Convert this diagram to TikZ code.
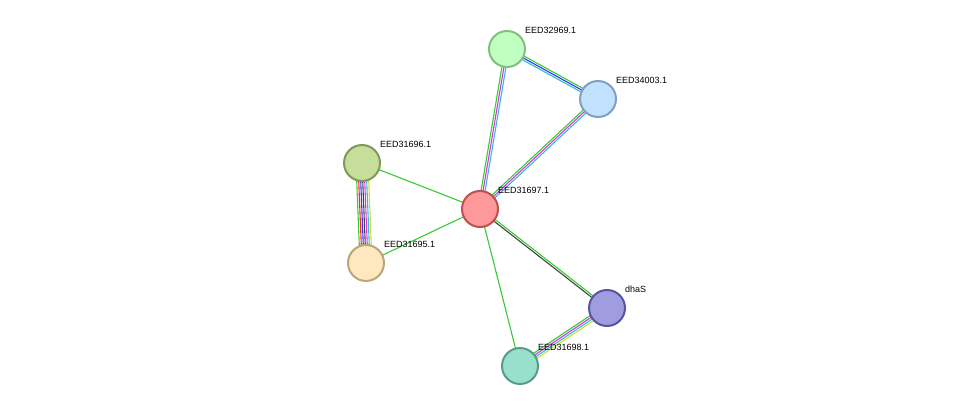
\documentclass[tikz,border=0pt]{standalone}
\usepackage{fontspec}
\setmainfont{Liberation Sans}
\usetikzlibrary{calc}
\definecolor{eg}{HTML}{33CC33}\definecolor{er}{HTML}{FF2222}\definecolor{eb}{HTML}{3333FF}
\definecolor{ek}{HTML}{444444}\definecolor{em}{HTML}{DD33DD}\definecolor{ec}{HTML}{33BBDD}
\definecolor{ey}{HTML}{CCDD33}
\newcommand{\medge}[3]{% a, b, list of offset/color
  \foreach \o/\c in {#3}{\draw[\c,line width=1.1pt] ($(#1)!\o pt!90:(#2)$) -- ($(#2)!\o pt!-90:(#1)$);}}
\begin{document}
\begin{tikzpicture}[x=1pt,y=-1pt,
  prot/.style={circle,minimum size=36pt,line width=2pt,inner sep=0},
  lab/.style={font=\fontsize{9}{10}\selectfont,anchor=south west,inner sep=1pt}]
\useasboundingbox (0,0) rectangle (975,412);
\coordinate (a) at (480,209);
\coordinate (b) at (507,49);
\coordinate (c) at (598,99);
\coordinate (d) at (362,163);
\coordinate (e) at (366,263);
\coordinate (f) at (607,308);
\coordinate (g) at (520,366);
\medge{d}{e}{-6/eg,-4/er,-2/eb,0/ek,2/em,4/ec,6/ey}
\medge{a}{b}{-2/ec,0/em,2/eg}
\medge{a}{c}{-2/ec,0/em,2/eg}
\medge{b}{c}{-2/ec,0/eb,2/eg}
\medge{a}{f}{-1/ek,1/eg}
\medge{f}{g}{-3/eg,-1/em,1/ec,3/ey}
\medge{a}{d}{0/eg}
\medge{a}{e}{0/eg}
\medge{a}{g}{0/eg}
\node[prot,fill={rgb,255:red,255;green,153;blue,153},draw={rgb,255:red,192;green,80;blue,80}] (na) at (a) {};
\node[prot,fill={rgb,255:red,193;green,255;blue,193},draw={rgb,255:red,128;green,192;blue,128}] (nb) at (b) {};
\node[prot,fill={rgb,255:red,193;green,225;blue,255},draw={rgb,255:red,127;green,160;blue,192}] (nc) at (c) {};
\node[prot,fill={rgb,255:red,197;green,222;blue,153},draw={rgb,255:red,128;green,152;blue,90}] (nd) at (d) {};
\node[prot,fill={rgb,255:red,255;green,232;blue,192},draw={rgb,255:red,184;green,168;blue,120}] (ne) at (e) {};
\node[prot,fill={rgb,255:red,160;green,156;blue,224},draw={rgb,255:red,90;green,85;blue,160}] (nf) at (f) {};
\node[prot,fill={rgb,255:red,153;green,224;blue,204},draw={rgb,255:red,90;green,154;blue,136}] (ng) at (g) {};
\node[lab] (la) at (497,195) {EED31697.1};
\node[lab] (lb) at (524,35) {EED32969.1};
\node[lab] (lc) at (615,85) {EED34003.1};
\node[lab] (ld) at (379,149) {EED31696.1};
\node[lab] (le) at (383,249) {EED31695.1};
\node[lab] (lf) at (624,294) {dhaS};
\node[lab] (lg) at (537,352) {EED31698.1};
\end{tikzpicture}
\end{document}
